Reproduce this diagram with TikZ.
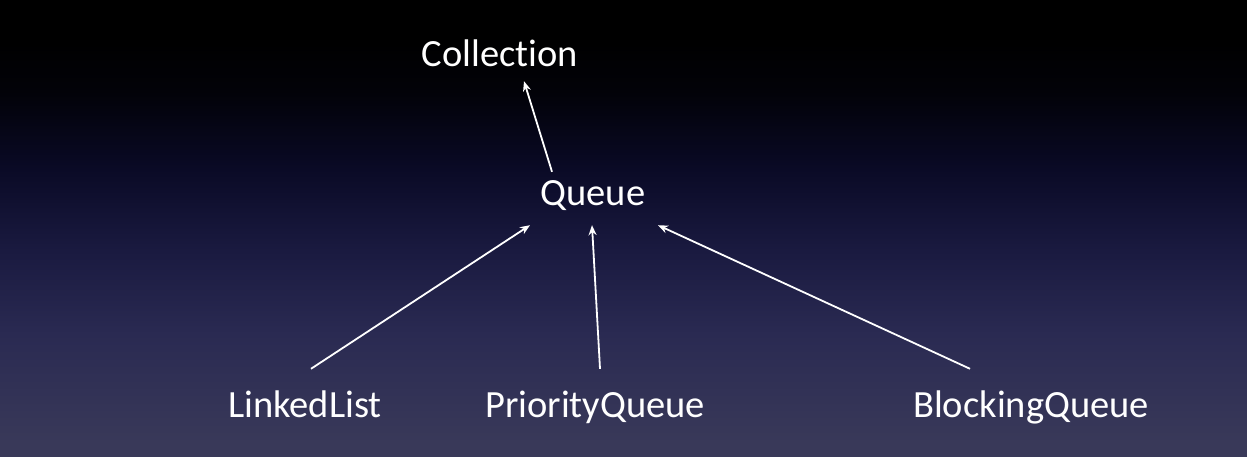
\documentclass[tikz,border=0pt]{standalone}
\usepackage{fontspec}
\setmainfont{Carlito}[Ligatures={NoCommon,NoContextual}]
\usetikzlibrary{arrows.meta}
\definecolor{bg0}{HTML}{000000}
\definecolor{bg1}{HTML}{020208}
\definecolor{bg2}{HTML}{0A0A26}
\definecolor{bg3}{HTML}{1A1A40}
\definecolor{bg4}{HTML}{2A2A52}
\definecolor{bg5}{HTML}{393959}
\pgfdeclareverticalshading{bgshade}{100bp}{color(0bp)=(bg5); color(26.5bp)=(bg5); color(38.5bp)=(bg4); color(47.5bp)=(bg3); color(56.5bp)=(bg2); color(65bp)=(bg1); color(71bp)=(bg0); color(100bp)=(bg0)}
\tikzset{
  lbl/.style={text=white, font=\fontsize{38.5}{40}\selectfont, inner sep=0pt, text height=26pt, text depth=8pt, anchor=base},
  conn/.style={draw=white, line width=1.8pt, -{Stealth[length=10pt,width=8pt]}}
}
\begin{document}
\begin{tikzpicture}[x=1pt,y=-1pt]
\useasboundingbox (0,0) rectangle (1247,457);
\shade[shading=bgshade] (0,0) rectangle (1247,457);
\node[lbl] (c) at (500,67) {Collection};
\node[lbl] (q) at (593,205) {Queue};
\node[lbl] (ll) at (305,417) {LinkedList};
\node[lbl] (pq) at (595,417) {PriorityQueue};
\node[lbl] (bq) at (1031,417) {BlockingQueue};
\draw[conn] ([shift={(-41,-7)}]q.north) -- ([shift={(24,6)}]c.south);
\draw[conn] ([shift={(6,-22)}]ll.north) -- ([shift={(-63,12)}]q.south);
\draw[conn] ([shift={(5,-22)}]pq.north) -- ([shift={(-1,12)}]q.south);
\draw[conn] ([shift={(-61,-22)}]bq.north) -- ([shift={(65,12)}]q.south);
\end{tikzpicture}
\end{document}
